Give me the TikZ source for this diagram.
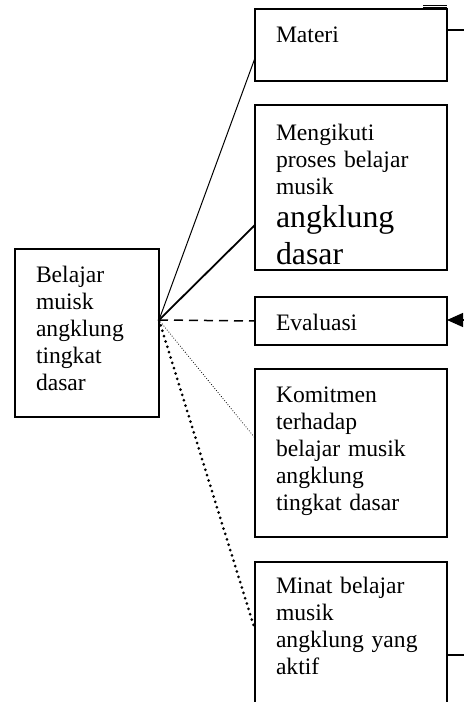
\documentclass[tikz,border=0pt]{standalone}
\usepackage{fontspec}
\setmainfont{Liberation Serif}
\usetikzlibrary{arrows.meta}
\begin{document}
\begin{tikzpicture}[x=0.5pt,y=-0.5pt,
  box/.style={draw, line width=0.75pt, anchor=north west, inner sep=0pt, outer sep=0pt},
  txt/.style={anchor=base west, inner sep=0pt, outer sep=0pt, text width=100pt, align=left,
    font=\fontsize{11.8}{13.6}\selectfont},
  big/.style={anchor=base west, inner sep=0pt, outer sep=0pt, font=\fontsize{15.9}{18.4}\selectfont},
  thin/.style={line width=0.5pt},
  thick/.style={line width=0.9pt},
]
\useasboundingbox (0,0) rectangle (464,702);

% boxes
\node[box, minimum width=72pt, minimum height=84pt] (belajar) at (15,249) {};
\node[box, minimum width=96pt, minimum height=36pt] (materi) at (255,9) {};
\node[box, minimum width=96pt, minimum height=82.5pt] (mengikuti) at (255,105) {};
\node[box, minimum width=96pt, minimum height=24pt] (evaluasi) at (255,297) {};
\node[box, minimum width=96pt, minimum height=84pt] (komitmen) at (255,369) {};
\node[box, minimum width=96pt, minimum height=74pt] (minat) at (255,562) {};

% texts
\node[txt] (tBelajar) at (36,282) {Belajar\\ muisk\\ angklung\\ tingkat\\ dasar};
\node[txt] (tMateri) at (276,42) {Materi};
\node[txt] (tMeng) at (276,140) {Mengikuti\\ proses belajar\\ musik};
\node[big] (tMengA) at (276,227) {angklung};
\node[big] (tMengB) at (276,264) {dasar};
\node[txt] (tEval) at (276,330) {Evaluasi};
\node[txt] (tKom) at (276,402) {Komitmen\\ terhadap\\ belajar musik\\ angklung\\ tingkat dasar};
\node[txt] (tMinat) at (276,593) {Minat belajar\\ musik\\ angklung yang\\ aktif};

% hub
\coordinate (hub) at ([yshift=6.5pt]belajar.east);

% connectors
\draw[thin] (hub) -- ([yshift=-6.5pt]materi.west);
\draw[thick] (hub) -- ([yshift=-18.75pt]mengikuti.west);
\draw[line width=0.75pt, dash pattern=on 4.5pt off 3pt] (hub) -- (evaluasi.west);
\draw[line width=0.55pt, line cap=round, dash pattern=on 0pt off 1.3pt] (hub) -- ([yshift=7.5pt]komitmen.west);
\draw[line width=1.5pt, line cap=round, dash pattern=on 0pt off 2.8pt] (hub) -- ([yshift=3pt]minat.west);

% right-side stubs
\coordinate (rMateri) at (464,30);
\coordinate (rEval) at (464,320);
\coordinate (rMinat) at (464,655);
\coordinate (dblA) at (423,5.5);
\coordinate (dblB) at (423,7.5);
\draw[line width=0.6pt] (materi.east |- rMateri) -- (rMateri);
\draw[line width=0.6pt] (minat.east |- rMinat) -- (rMinat);
\draw[line width=0.6pt, -{Triangle[length=8pt,width=7pt]}] (rEval) -- (evaluasi.east |- rEval);
\draw[line width=0.5pt] (dblA) -- (dblA -| materi.east);
\draw[line width=0.5pt] (dblB) -- (dblB -| materi.east);
\end{tikzpicture}
\end{document}
